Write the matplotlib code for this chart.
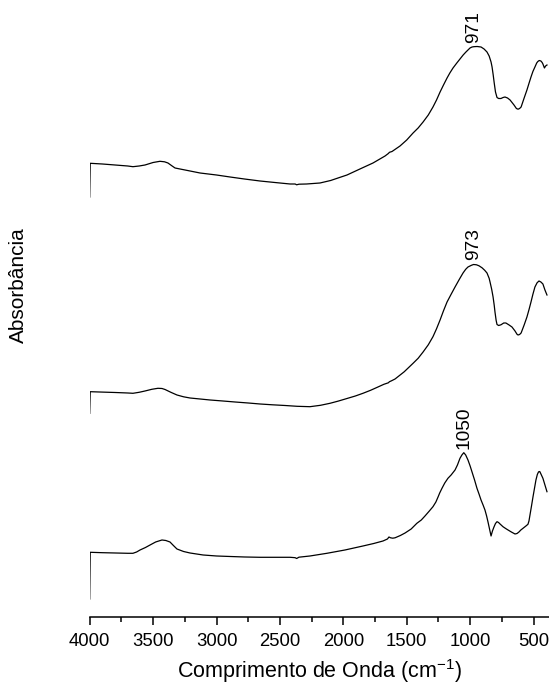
import numpy as np
import matplotlib
matplotlib.use('Agg')
import matplotlib.pyplot as plt

plt.rcParams['font.family'] = ['Liberation Sans', 'DejaVu Sans']
plt.rcParams['mathtext.default'] = 'regular'

# FTIR spectra: wavenumber (cm-1) and absorbance (a.u.) above each trace's own baseline
wn_a = [4000, 3996, 3900, 3800, 3700, 3659, 3610, 3564, 3500, 3446, 3410, 3383, 3350,
        3327, 3280, 3248, 3130, 3000, 2893, 2780, 2657, 2540, 2420, 2380, 2368, 2350,
        2290, 2184, 2100, 2030, 1971, 1869, 1766, 1671, 1645, 1636, 1616, 1553, 1500,
        1450, 1410, 1371, 1330, 1293, 1265, 1237, 1210, 1182, 1160, 1135, 1105, 1080,
        1055, 1033, 1001, 985, 971, 945, 914, 890, 867, 850, 835, 827, 818, 810, 800,
        788, 775, 757, 740, 725, 705, 685, 654, 635, 622, 610, 598, 574, 552, 535, 520,
        505, 489, 475, 466, 455, 442, 432, 426, 414, 405, 394]
abs_a = [0.00, 0.337, 0.33, 0.32, 0.31, 0.303, 0.31, 0.32, 0.345, 0.357, 0.352, 0.34, 0.31,
         0.29, 0.278, 0.27, 0.24, 0.22, 0.20, 0.18, 0.16, 0.145, 0.13, 0.13, 0.122, 0.128,
         0.13, 0.14, 0.165, 0.195, 0.22, 0.28, 0.34, 0.41, 0.435, 0.447, 0.455, 0.51, 0.57,
         0.64, 0.69, 0.75, 0.82, 0.90, 0.97, 1.05, 1.12, 1.19, 1.24, 1.29, 1.34, 1.38,
         1.42, 1.45, 1.49, 1.50, 1.503, 1.505, 1.50, 1.48, 1.45, 1.41, 1.35, 1.30, 1.22, 1.14, 1.05,
         0.995, 0.985, 0.985, 0.995, 1.00, 0.99, 0.97, 0.92, 0.885, 0.878, 0.885, 0.90, 0.99, 1.07,
         1.14, 1.20, 1.255, 1.30, 1.34, 1.355, 1.365, 1.36, 1.345, 1.33, 1.29, 1.31, 1.32]

wn_b = [4000, 3996, 3900, 3800, 3700, 3659, 3610, 3564, 3510, 3462, 3430, 3406, 3360,
        3312, 3260, 3209, 3130, 3051, 2950, 2854, 2750, 2657, 2560, 2460, 2365, 2263,
        2180, 2105, 2040, 1971, 1905, 1845, 1785, 1727, 1680, 1645, 1636, 1620, 1592,
        1520, 1450, 1410, 1371, 1330, 1293, 1265, 1237, 1210, 1182, 1150, 1119, 1085,
        1056, 1035, 1017, 990, 973, 950, 930, 906, 885, 867, 850, 843, 830, 819, 810,
        804, 795, 788, 775, 757, 735, 718, 695, 670, 646, 630, 622, 610, 598, 574, 552,
        535, 520, 505, 489, 472, 457, 442, 426, 410, 394]
abs_b = [0.00, 0.216, 0.212, 0.208, 0.203, 0.20, 0.21, 0.223, 0.24, 0.25, 0.248, 0.238, 0.21,
         0.183, 0.165, 0.153, 0.143, 0.133, 0.123, 0.113, 0.103, 0.093, 0.085, 0.078, 0.07, 0.066,
         0.08, 0.10, 0.122, 0.148, 0.173, 0.20, 0.23, 0.263, 0.29, 0.305, 0.316, 0.325, 0.343,
         0.415, 0.50, 0.55, 0.613, 0.685, 0.766, 0.845, 0.933, 1.025, 1.113, 1.19, 1.263, 1.34,
         1.403, 1.44, 1.463, 1.48, 1.488, 1.485, 1.475, 1.455, 1.43, 1.403, 1.35, 1.313, 1.24,
         1.163, 1.08, 1.013, 0.93, 0.888, 0.878, 0.885, 0.903, 0.903, 0.885, 0.863, 0.823, 0.79,
         0.783, 0.788, 0.803, 0.883, 0.963, 1.04, 1.113, 1.19, 1.263, 1.305, 1.323, 1.313,
         1.293, 1.233, 1.183]

wn_c = [4000, 3996, 3900, 3800, 3700, 3659, 3630, 3603, 3560, 3524, 3480, 3430, 3400,
        3367, 3340, 3312, 3260, 3209, 3106, 3000, 2893, 2780, 2657, 2540, 2420, 2380,
        2368, 2350, 2263, 2129, 1987, 1845, 1760, 1687, 1652, 1640, 1628, 1610, 1592,
        1550, 1513, 1465, 1420, 1385, 1356, 1325, 1293, 1270, 1253, 1240, 1222, 1200,
        1175, 1150, 1119, 1100, 1080, 1065, 1050, 1035, 1017, 1000, 985, 965, 946, 930,
        914, 898, 883, 870, 859, 847, 835, 824, 812, 800, 788, 776, 764, 741, 720, 701,
        675, 646, 630, 615, 600, 583, 560, 544, 536, 528, 516, 504, 492, 481, 470, 461,
        455, 450, 438, 426, 410, 394]
abs_c = [0.00, 0.467, 0.463, 0.46, 0.457, 0.457, 0.47, 0.49, 0.515, 0.54, 0.57, 0.59, 0.585,
         0.57, 0.535, 0.50, 0.475, 0.46, 0.44, 0.43, 0.425, 0.42, 0.417, 0.417, 0.417, 0.413,
         0.405, 0.418, 0.43, 0.457, 0.49, 0.53, 0.555, 0.58, 0.60, 0.62, 0.612, 0.608, 0.612,
         0.635, 0.66, 0.70, 0.757, 0.79, 0.83, 0.875, 0.923, 0.97, 1.02, 1.06, 1.107, 1.16,
         1.207, 1.24, 1.29, 1.34, 1.407, 1.44, 1.463, 1.44, 1.39, 1.33, 1.27, 1.19, 1.107, 1.05,
         0.99, 0.94, 0.89, 0.83, 0.77, 0.70, 0.63, 0.68, 0.72, 0.755, 0.773, 0.765, 0.75, 0.723,
         0.705, 0.69, 0.67, 0.65, 0.655, 0.67, 0.69, 0.707, 0.73, 0.747, 0.78, 0.84, 0.93, 1.023,
         1.11, 1.19, 1.245, 1.27, 1.275, 1.273, 1.24, 1.207, 1.14, 1.073]

# vertical stacking of the three traces
offsets = [4.20, 2.037, 0.18]
peaks = [971, 973, 1050]
xticks = [4000, 3500, 3000, 2500, 2000, 1500, 1000, 500]

fig = plt.figure(figsize=(5.49, 6.86), dpi=100)
ax = fig.add_axes([0.1634, 0.1006, 0.8366, 0.8994])

spectra = [(wn_a, abs_a), (wn_b, abs_b), (wn_c, abs_c)]
for (wn, ab), off, pk in zip(spectra, offsets, peaks):
    wn = np.array(wn)
    ab = np.array(ab) + off
    ax.plot(wn, ab, color='black', lw=0.9)
    ypk = ab[np.argmin(np.abs(wn - pk))]
    ax.annotate(str(pk), (pk, ypk), xytext=(0, 3), textcoords='offset points',
                rotation=90, ha='center', va='bottom', fontsize=13.8)

ax.set_xlim(4000, 378)
ax.set_ylim(0, 6.17)
for s in ['left', 'right', 'top']:
    ax.spines[s].set_visible(False)
ax.spines['bottom'].set_linewidth(1.1)
ax.set_yticks([])
ax.set_xticks(xticks)
ax.set_xticks(np.arange(3750, 380, -500), minor=True)
ax.tick_params(axis='x', which='major', length=5.8, width=1.1, pad=6, labelsize=13.3)
ax.tick_params(axis='x', which='minor', length=3.6, width=1.1)

ax.set_xlabel('Comprimento de Onda (cm$^{-1}$)', fontsize=15.5, labelpad=5)
ax.set_ylabel('Absorbância', fontsize=15)
ax.yaxis.set_label_coords(-0.134, 0.538)

fig.savefig('out.png', dpi=100)
